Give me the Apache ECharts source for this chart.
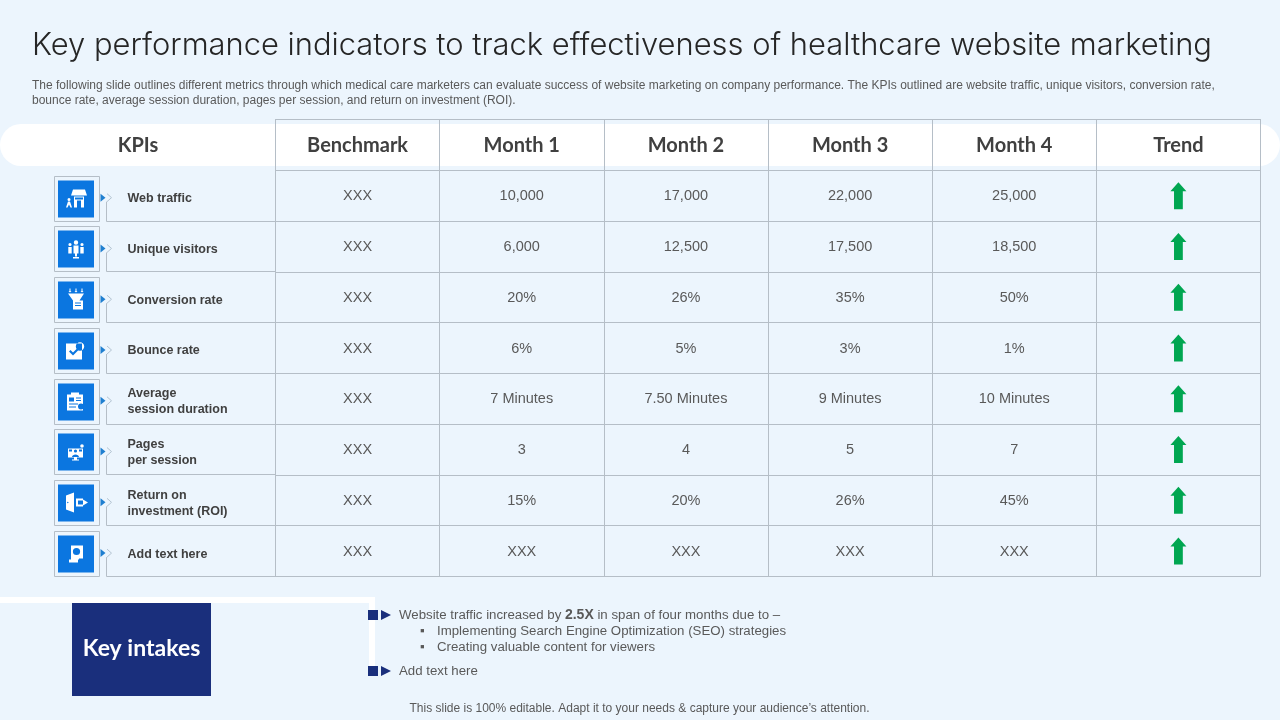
<!DOCTYPE html>
<html>
<head>
<meta charset="utf-8">
<title>KPIs</title>
<style>
  html, body { margin: 0; padding: 0; background: #ecf5fd; }
  #main { width: 1280px; height: 720px; }
</style>
<script src="https://cdn.jsdelivr.net/npm/echarts@6/dist/echarts.min.js"></script>
</head>
<body>
<div id="main"></div>
<script>
var titleText = 'Key performance indicators to track effectiveness of healthcare website marketing';
var introText = 'The following slide outlines different metrics through which medical care marketers can evaluate success of website marketing on company performance. The KPIs outlined are website traffic, unique visitors, conversion rate,\nbounce rate, average session duration, pages per session, and return on investment (ROI).';
var footerText = 'This slide is 100% editable. Adapt it to your needs & capture your audience\u2019s attention.';

var columns = ['Benchmark', 'Month 1', 'Month 2', 'Month 3', 'Month 4', 'Trend'];
var kpiNames = ['Web traffic', 'Unique visitors', 'Conversion rate', 'Bounce rate', 'Average\nsession duration', 'Pages\nper session', 'Return on\ninvestment (ROI)', 'Add text here'];
var benchmark = ['XXX', 'XXX', 'XXX', 'XXX', 'XXX', 'XXX', 'XXX', 'XXX'];
var month1 = ['10,000', '6,000', '20%', '6%', '7 Minutes', '3', '15%', 'XXX'];
var month2 = ['17,000', '12,500', '26%', '5%', '7.50 Minutes', '4', '20%', 'XXX'];
var month3 = ['22,000', '17,500', '35%', '3%', '9 Minutes', '5', '26%', 'XXX'];
var month4 = ['25,000', '18,500', '50%', '1%', '10 Minutes', '7', '45%', 'XXX'];
var trend = ['up', 'up', 'up', 'up', 'up', 'up', 'up', 'up'];

// first band of the y axis is the header row
var rowNames = [''].concat(kpiNames);

var LINE = '#b5bec7';
var BG = '#ecf5fd';
var BLUE = '#0b76e0';
var NAVY = '#1a2f7c';
var TEXT = '#595959';
var KPI_SHIFT = 3;   // kpi grid sits a little lower so its labels line up

// ------------------------------
// cells
// ------------------------------
var cellData = [];
[benchmark, month1, month2, month3, month4].forEach(function (col, c) {
    col.forEach(function (v, r) {
        cellData.push({ value: [c, r + 1], label: v });
    });
});

function renderCell(params, api) {
    var p = api.coord([api.value(0), api.value(1)]);
    return {
        type: 'text',
        x: p[0],
        y: p[1] + 0.5,
        style: {
            text: cellData[params.dataIndex].label,
            fill: TEXT,
            font: '14.5px "Liberation Sans"',
            align: 'center',
            verticalAlign: 'middle'
        }
    };
}

// ------------------------------
// icons, 36 x 36 box, drawn white then blue on top
// ------------------------------
function dot(x, y, r) {
    return 'M' + (x - r) + ' ' + y + 'A' + r + ' ' + r + ' 0 1 0 ' + (x + r) + ' ' + y + 'A' + r + ' ' + r + ' 0 1 0 ' + (x - r) + ' ' + y + 'Z';
}
var BOX = 'M0 0L0 0ZM36 36L36 36Z';
var iconWhite = [
    'M15 9H27L29 15H13ZM16 16H26V27H23V20H19V27H16Z' + dot(11, 19, 1.5) + 'M10 21H12L14 27H12.5L11 24L9.5 27H8Z',
    dot(18, 12, 2.2) + 'M15.5 15H20.5V23H19V26H17V23H15.5ZM15 26.5H21V28H15Z' + dot(12, 14, 1.6) + 'M10.3 16.5H13.7V23H10.3Z' + dot(24, 14, 1.6) + 'M22.3 16.5H25.7V23H22.3Z',
    'M11.5 7H12.5V9.5H13.5L12 11L10.5 9.5H11.5ZM17.5 7H18.5V9.5H19.5L18 11L16.5 9.5H17.5ZM23.5 7H24.5V9.5H25.5L24 11L22.5 9.5H23.5ZM10 12H26L21.5 19H25V28H15V19Z',
    'M8 11H24V27H8Z' + dot(22, 14, 4.2),
    'M13 9H21V11H25V27H9V11H13Z',
    'M10 15H25V24H19V26H21V27H14V26H16V24H10Z' + dot(24, 12.5, 1.8),
    'M8 11L16 8V28L8 25ZM18 14H25V16H20V20H25V22H18ZM25 15L30 18L25 21Z',
    'M13 10H25V23H21V24H13ZM11 24H20V27H11Z'
];
var iconBlue = [
    'M17 17H25V19H17Z',
    '',
    'M17 21H23V22H17ZM17 23.5H23V24.5H17Z',
    'M11 19L12.5 17.5L15 20L20 15L21.5 16.5L15 23Z' + 'M21.5 11.5H22.5V14.5H21.5ZM21.5 15.3H22.5V16.3H21.5Z',
    'M11 14H16V18H11ZM18 14H23V15H18ZM18 16.5H23V17.5H18ZM11 20H20V21H11ZM11 23H18V24H11Z' + dot(23, 23, 3),
    dot(17.5, 17.5, 1.6) + 'M14 23.5C14 20 21 20 21 23.5ZM11 16H14V18H11ZM21 16H24V18H21Z',
    dot(9.8, 18, 0.7),
    dot(18.5, 16, 3.6)
];

function renderKpi(params, api) {
    var p = api.coord([0, api.value(0)]);
    var cy = p[1] - KPI_SHIFT;
    var h = api.size([0, 1])[1];
    var bottom = Math.floor(cy + h / 2) + 0.5;
    var left = Math.round(p[0] - 84) + 0.5;   // outline box starts here
    var midY = cy + 2;
    var tx = left + 3.5;
    var ty = bottom - 41;
    var i = params.dataIndex;
    var children = [
        { type: 'rect', shape: { x: left, y: bottom - 45, width: 45, height: 45 }, style: { fill: BG, stroke: LINE, lineWidth: 1 } },
        { type: 'rect', shape: { x: tx, y: ty, width: 36, height: 37 }, style: { fill: BLUE } },
        { type: 'polygon', shape: { points: [[left + 46, midY - 4], [left + 46, midY + 4], [left + 51, midY]] }, style: { fill: '#1f7fd0' } },
        { type: 'polyline', shape: { points: [[left + 52.5, midY - 4], [left + 57, midY], [left + 52.5, midY + 4]] }, style: { fill: 'none', stroke: '#b4c4d2', lineWidth: 1 } },
        { type: 'polyline', shape: { points: [[left + 52, midY + 4], [left + 52, bottom], [p[0] + 138, bottom]] }, style: { fill: 'none', stroke: LINE, lineWidth: 1 } },
        { type: 'path', shape: { pathData: BOX + iconWhite[i], x: tx, y: ty, width: 36, height: 36 }, style: { fill: '#fff' } }
    ];
    if (iconBlue[i]) {
        children.push({ type: 'path', shape: { pathData: BOX + iconBlue[i], x: tx, y: ty, width: 36, height: 36 }, style: { fill: BLUE } });
    }
    return { type: 'group', children: children };
}

// ------------------------------
// key intakes text and slide furniture
// ------------------------------
function bullet(y) {
    return [
        { type: 'rect', silent: true, shape: { x: 368, y: y - 5, width: 10, height: 10 }, style: { fill: NAVY } },
        { type: 'polygon', silent: true, shape: { points: [[381, y - 5], [381, y + 5], [391, y]] }, style: { fill: NAVY } }
    ];
}
function line(x, y, text, extra) {
    var st = { x: x, y: y, text: text, fill: TEXT, font: '13.25px "Liberation Sans"', verticalAlign: 'middle' };
    if (extra) { st.rich = extra; }
    return { type: 'text', silent: true, style: st };
}

var graphics = [
    { type: 'rect', silent: true, z: -1, shape: { x: 0, y: 124, width: 1280, height: 42, r: 21 }, style: { fill: '#fff' } },
    { type: 'rect', silent: true, shape: { x: 0, y: 597, width: 375, height: 6 }, style: { fill: '#fff' } },
    { type: 'rect', silent: true, shape: { x: 369, y: 597, width: 6, height: 70 }, style: { fill: '#fff' } },
    { type: 'rect', silent: true, shape: { x: 72, y: 603, width: 139, height: 93 }, style: { fill: NAVY } },
    { type: 'text', silent: true, style: { x: 141.5, y: 649, text: 'Key intakes', fill: '#fff', font: 'bold 23px Lato', align: 'center', verticalAlign: 'middle' } }
].concat(bullet(615), bullet(671), [
    line(399, 615, 'Website traffic increased by {b|2.5X} in span of four months due to \u2013', { b: { font: 'bold 14px "Liberation Sans"', fill: TEXT } }),
    line(420, 631, '\u25AA'),
    line(437, 631, 'Implementing Search Engine Optimization (SEO) strategies'),
    line(420, 647, '\u25AA'),
    line(437, 647, 'Creating valuable content for viewers'),
    line(399, 671, 'Add text here'),
    { type: 'text', silent: true, style: { x: 639.5, y: 709, text: footerText, fill: TEXT, font: '12px "Liberation Sans"', align: 'center', verticalAlign: 'middle' } }
]);

function headerLabel(margin) {
    return {
        inside: true,
        margin: margin,
        verticalAlign: 'middle',
        interval: 0,
        color: '#404040',
        fontFamily: 'Lato',
        fontWeight: 'bold',
        fontSize: 20
    };
}

var chart = echarts.init(document.getElementById('main'));
var option = {
    animation: false,
    backgroundColor: BG,
    title: [{
        text: titleText,
        left: 32,
        top: 30,
        padding: 0,
        textStyle: { fontFamily: 'Inter', fontWeight: 300, fontSize: 30.9, color: '#262626' }
    }, {
        text: introText,
        left: 32,
        top: 78,
        padding: 0,
        textStyle: { fontFamily: '"Liberation Sans"', fontWeight: 'normal', fontSize: 12, lineHeight: 15, color: '#595959' }
    }],
    grid: [
        { left: 275.5, top: 119.5, width: 985, height: 457, containLabel: false },
        { left: 0, top: 119.5 + KPI_SHIFT, width: 276, height: 457, containLabel: false }
    ],
    xAxis: [{
        type: 'category',
        gridIndex: 0,
        position: 'top',
        data: columns,
        axisLine: { show: true, lineStyle: { color: LINE } },
        axisTick: { show: false },
        axisLabel: headerLabel(26),
        splitLine: { show: true, interval: 0, lineStyle: { color: LINE, width: 1 } }
    }, {
        type: 'category',
        gridIndex: 1,
        position: 'top',
        data: ['KPIs'],
        axisLine: { show: false },
        axisTick: { show: false },
        axisLabel: headerLabel(26 - KPI_SHIFT)
    }],
    yAxis: [{
        type: 'category',
        gridIndex: 0,
        inverse: true,
        data: rowNames,
        axisLine: { show: false },
        axisTick: { show: false },
        axisLabel: { show: false },
        splitLine: { show: true, interval: 0, lineStyle: { color: LINE, width: 1 } }
    }, {
        type: 'category',
        gridIndex: 1,
        inverse: true,
        data: rowNames,
        axisLine: { show: false },
        axisTick: { show: false },
        axisLabel: {
            inside: true,
            margin: 127.5,
            align: 'left',
            interval: 0,
            lineHeight: 16,
            color: '#404040',
            fontFamily: '"Liberation Sans"',
            fontWeight: 'bold',
            fontSize: 12.5
        }
    }],
    series: [{
        name: 'Cells',
        type: 'custom',
        xAxisIndex: 0,
        yAxisIndex: 0,
        data: cellData.map(function (d) { return d.value; }),
        renderItem: renderCell,
        silent: true
    }, {
        name: 'Trend',
        type: 'scatter',
        xAxisIndex: 0,
        yAxisIndex: 0,
        data: trend.map(function (t, r) { return [5, r + 1]; }),
        symbol: 'path://M8 0L16 9H12.4V27H3.6V9H0Z',
        symbolSize: [16, 27],
        itemStyle: { color: '#00a651', opacity: 1 },
        silent: true
    }, {
        name: 'KPI rows',
        type: 'custom',
        xAxisIndex: 1,
        yAxisIndex: 1,
        data: kpiNames.map(function (n, r) { return [r + 1]; }),
        encode: { y: 0 },
        renderItem: renderKpi,
        silent: true
    }],
    graphic: graphics
};
chart.setOption(option);
</script>
</body>
</html>
